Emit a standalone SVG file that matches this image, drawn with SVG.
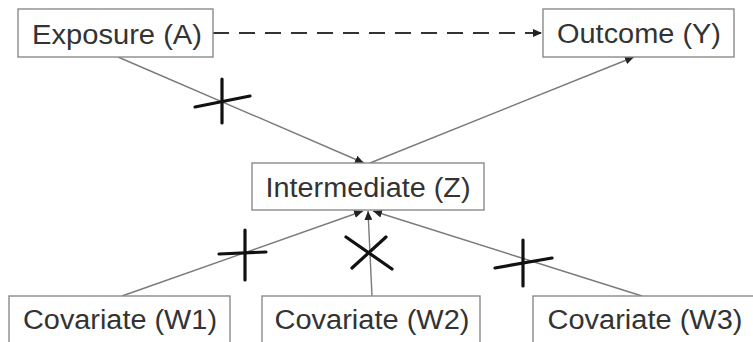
<svg xmlns="http://www.w3.org/2000/svg" width="753" height="342" viewBox="0 0 753 342">
<style>
.box{fill:#fff;stroke:#8a8a8a;stroke-width:1.4}
.lbl{font-family:"Liberation Sans",Arial,sans-serif;font-size:27px;fill:#333;text-anchor:middle}
.edge{stroke:#7a7a7a;stroke-width:1.4;fill:none}
.dash{stroke:#333;stroke-width:2;stroke-dasharray:16 10;fill:none}
.cut{stroke:#111;stroke-width:3.2;stroke-linecap:round;fill:none}
</style>
<defs>
<marker id="ah" markerUnits="userSpaceOnUse" markerWidth="10" markerHeight="8" refX="9" refY="4" orient="auto">
<path d="M0,0 L9,4 L0,8 Z" fill="#222"/>
</marker>
</defs>
<rect width="753" height="342" fill="#fff"/>
<g id="connectors">
<line class="dash" x1="213" y1="33" x2="542" y2="33" marker-end="url(#ah)"/>
<line class="edge" x1="118" y1="57" x2="364" y2="163" marker-end="url(#ah)"/>
<line class="edge" x1="370" y1="163" x2="634" y2="57" marker-end="url(#ah)"/>
<line class="edge" x1="122" y1="296" x2="363" y2="211" marker-end="url(#ah)"/>
<line class="edge" x1="372" y1="296" x2="368" y2="211" marker-end="url(#ah)"/>
<line class="edge" x1="642" y1="296" x2="373" y2="211" marker-end="url(#ah)"/>
</g>
<g id="cuts">
<line class="cut" x1="222" y1="79" x2="222" y2="123"/>
<line class="cut" x1="195" y1="107" x2="250" y2="96"/>
<line class="cut" x1="245" y1="230" x2="245" y2="280"/>
<line class="cut" x1="219" y1="254" x2="266" y2="252"/>
<line class="cut" x1="346" y1="237" x2="392" y2="269"/>
<line class="cut" x1="352" y1="268" x2="386" y2="237"/>
<line class="cut" x1="523" y1="240" x2="523" y2="286"/>
<line class="cut" x1="495" y1="268" x2="552" y2="258"/>
</g>
<g id="exposure">
<rect class="box" x="18" y="9" width="195" height="48"/>
<text class="lbl" x="117" y="44" textLength="170" lengthAdjust="spacingAndGlyphs">Exposure (A)</text>
</g>
<g id="outcome">
<rect class="box" x="543" y="9" width="191" height="48"/>
<text class="lbl" x="639" y="43" textLength="164" lengthAdjust="spacingAndGlyphs">Outcome (Y)</text>
</g>
<g id="intermediate">
<rect class="box" x="252" y="163" width="232" height="47"/>
<text class="lbl" x="368" y="197" textLength="205" lengthAdjust="spacingAndGlyphs">Intermediate (Z)</text>
</g>
<g id="w1">
<rect class="box" x="9" y="296" width="221" height="50"/>
<text class="lbl" x="120" y="329" textLength="194" lengthAdjust="spacingAndGlyphs">Covariate (W1)</text>
</g>
<g id="w2">
<rect class="box" x="262" y="296" width="218" height="50"/>
<text class="lbl" x="372" y="329" textLength="195" lengthAdjust="spacingAndGlyphs">Covariate (W2)</text>
</g>
<g id="w3">
<rect class="box" x="533" y="296" width="224" height="50"/>
<text class="lbl" x="645" y="329" textLength="195" lengthAdjust="spacingAndGlyphs">Covariate (W3)</text>
</g>
</svg>
